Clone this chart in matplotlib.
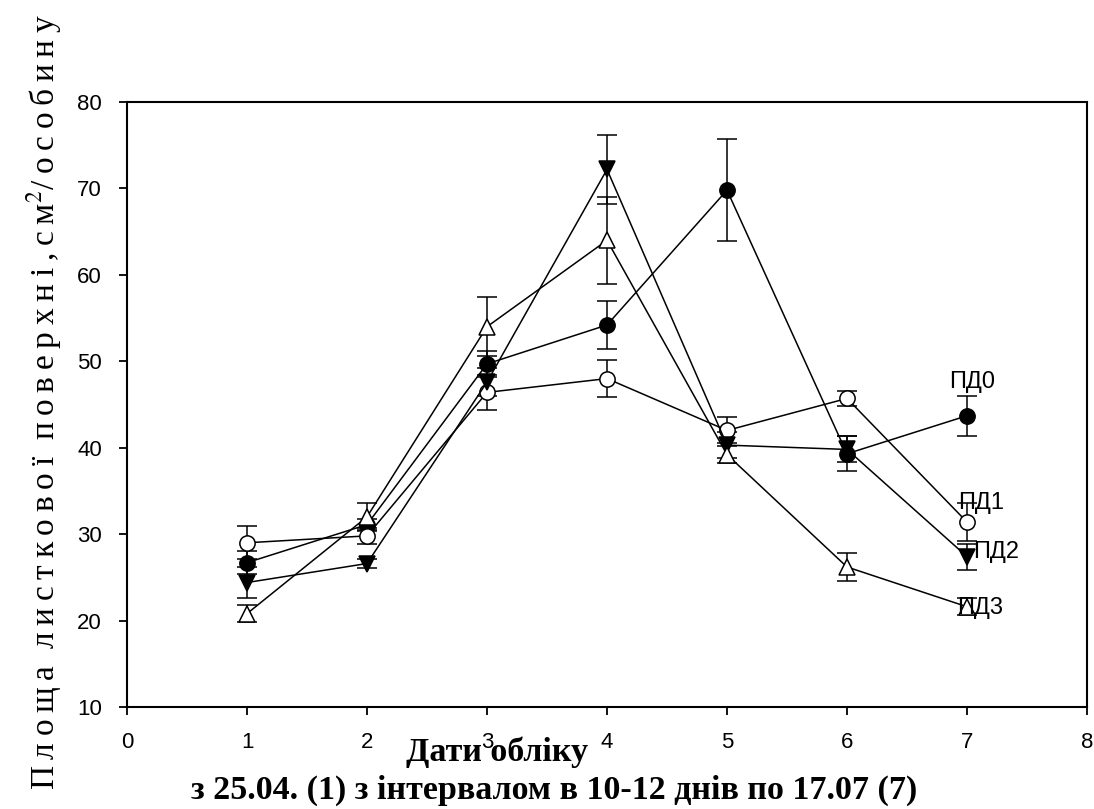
import matplotlib
matplotlib.use("Agg")
import matplotlib.pyplot as plt

plt.rcParams["mathtext.fontset"] = "stix"

# dates of observation (1..7)
x = [1, 2, 3, 4, 5, 6, 7]

# leaf area, cm2 per plant, with error bars
pd0 = [26.7, 31.1, 49.7, 54.2, 69.8, 39.3, 43.7]
pd0_err = [1.3, 0.6, 1.5, 2.8, 5.9, 2.0, 2.3]
pd1 = [29.0, 29.8, 46.4, 48.0, 42.0, 45.7, 31.4]
pd1_err = [1.9, 0.9, 2.0, 2.1, 1.5, 0.9, 2.2]
pd2 = [24.4, 26.6, 47.6, 72.2, 40.3, 39.8, 27.4]
pd2_err = [1.8, 0.5, 1.6, 4.0, 1.5, 1.5, 1.5]
pd3 = [20.8, 32.0, 54.0, 64.0, 39.2, 26.2, 21.6]
pd3_err = [1.0, 1.6, 3.4, 5.0, 1.0, 1.6, 1.0]

series_names = ["ПД0", "ПД1", "ПД2", "ПД3"]
# where the series names sit next to the last point
name_x = [6.85, 6.93, 7.05, 6.92]
name_y = [47.6, 33.6, 27.9, 21.5]

xticks = [0, 1, 2, 3, 4, 5, 6, 7, 8]
yticks = [10, 20, 30, 40, 50, 60, 70, 80]

fig = plt.figure(figsize=(10.94, 8.09), dpi=100)
ax = fig.add_axes([0.1161, 0.1261, 0.8775, 0.7478])

styles = [
    dict(marker="o", mfc="black", ms=11),
    dict(marker="o", mfc="white", ms=11),
    dict(marker="v", mfc="black", ms=12),
    dict(marker="^", mfc="white", ms=12),
]
data = [(pd0, pd0_err), (pd1, pd1_err), (pd2, pd2_err), (pd3, pd3_err)]

for (vals, errs), st in zip(data, styles):
    ax.errorbar(x, vals, yerr=errs, color="black", lw=1.1, elinewidth=1.1,
                capsize=7.2, capthick=1.1, mec="black", mew=1.1, **st)

for name, tx, ty in zip(series_names, name_x, name_y):
    ax.text(tx, ty, name, fontsize=17, family="Liberation Sans",
            ha="left", va="center")

ax.set_xlim(0, 8)
ax.set_ylim(10, 80)
ax.set_xticks(xticks)
ax.set_yticks(yticks)
for lbl in ax.get_xticklabels() + ax.get_yticklabels():
    lbl.set_family("Liberation Sans")
    lbl.set_fontsize(16)
ax.tick_params(direction="out", length=6, width=1.3, pad=12)
for sp in ax.spines.values():
    sp.set_linewidth(1.5)

# axis titles (Times-like, spaced out letters on y)
sp_ = "\u2009"
ylab = sp_.join("Площа") + "  " + sp_.join("листкової") + "  " + \
    sp_.join("поверхні,см") + "$^{2}$" + sp_.join("/особину")
fig.text(0.0400, 0.503, ylab, rotation=90, ha="center", va="center",
         fontsize=24, family=["Liberation Serif", "DejaVu Serif"])
fig.text(0.4548, 0.0705, "Дати обліку", ha="center", va="center",
         fontsize=24.5, fontweight="bold", family="Liberation Serif")
fig.text(0.5069, 0.0235, "з 25.04. (1) з інтервалом в 10-12 днів по 17.07 (7)",
         ha="center", va="center", fontsize=24.5, fontweight="bold",
         family="Liberation Serif")

fig.savefig("out.png", dpi=100)
